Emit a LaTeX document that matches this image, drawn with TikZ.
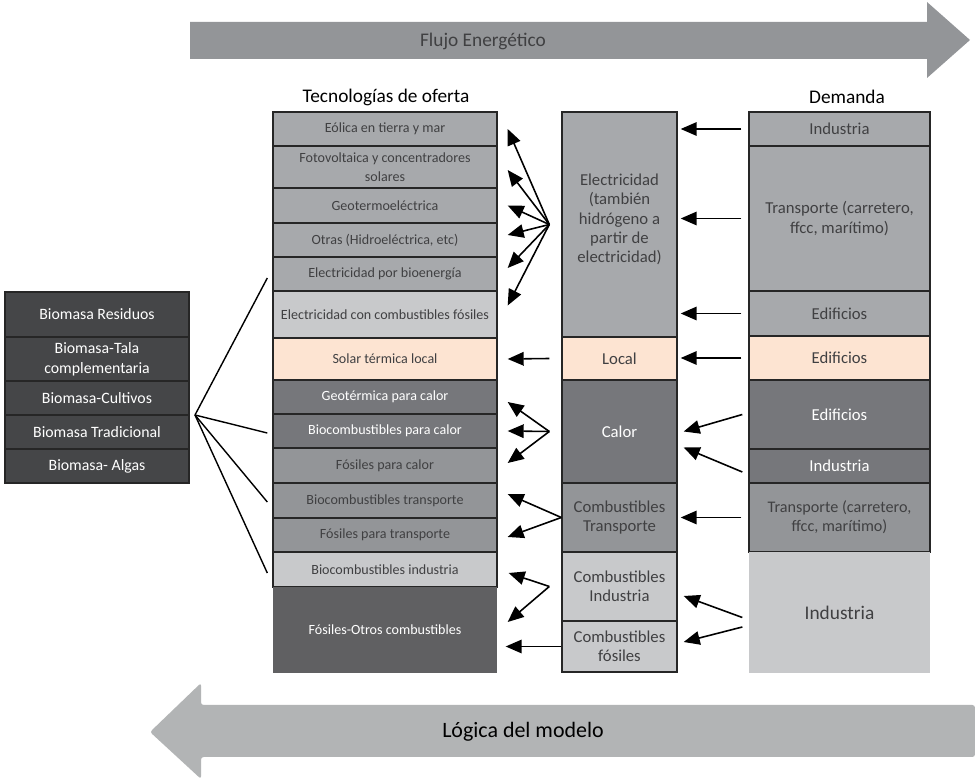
\documentclass[tikz,border=0pt]{standalone}
\usepackage{fontspec}
\setmainfont{Carlito}
\usetikzlibrary{arrows.meta,calc}

\definecolor{gA}{RGB}{167,169,172}
\definecolor{gL}{RGB}{200,201,203}
\definecolor{gM}{RGB}{147,149,152}
\definecolor{gD}{RGB}{118,119,123}
\definecolor{gX}{RGB}{96,96,98}
\definecolor{gB}{RGB}{69,70,72}
\definecolor{peach}{RGB}{253,228,210}
\definecolor{flechaL}{RGB}{178,180,181}
\definecolor{txt}{RGB}{64,64,66}

\tikzset{
	box/.style={draw=black!85, line width=0.8pt, inner sep=1pt, align=center, text=txt, font=\fontsize{8}{10.6}\selectfont},
	ofr/.style={box, minimum width=4.48cm},
	vec/.style={box, minimum width=2.30cm, font=\fontsize{9.5}{11}\selectfont},
	dem/.style={box, minimum width=3.62cm, font=\fontsize{9.5}{11}\selectfont},
	bio/.style={box, minimum width=3.68cm, fill=gB, text=white, font=\fontsize{9}{11.3}\selectfont},
	titulo/.style={font=\fontsize{11}{13}\selectfont},
	flecha/.style={line width=0.9pt, -{Triangle[length=0.32cm,width=0.27cm]}},
	linea/.style={line width=0.8pt},
}

\begin{document}
\begin{tikzpicture}[x=0.02cm, y=-0.02cm]
	%%%%% START %%%%%
	\useasboundingbox[fill=white] (0,0) rectangle (975,780);
	
	% flujo energetico
	\fill[gM] (190,22) -- (927,22) -- (927,2) -- (970,40) -- (927,78) -- (927,59) -- (190,59) -- cycle;
	\node[titulo, text=txt] (flujo) at (483,41) {Flujo Energético};
	
	% titulos
	\node[titulo] (tofr) at (386,97) {Tecnologías de oferta};
	\node[titulo] (tdem) at (847,97) {Demanda};
	
	% tecnologias de oferta
	\node[ofr, fill=gA, minimum height=0.68cm] (eol) at (385,129) {Eólica en tierra y mar};
	\node[ofr, fill=gA, minimum height=0.84cm] (foto) at (385,167) {Fotovoltaica y concentradores\\solares};
	\node[ofr, fill=gA, minimum height=0.70cm] (geo) at (385,205.5) {Geotermoeléctrica};
	\node[ofr, fill=gA, minimum height=0.68cm] (otr) at (385,240) {Otras (Hidroeléctrica, etc)};
	\node[ofr, fill=gA, minimum height=0.68cm] (ebio) at (385,274) {Electricidad por bioenergía};
	\node[ofr, fill=gL, minimum height=0.94cm] (efos) at (385,314.5) {Electricidad con combustibles fósiles};
	\node[ofr, fill=peach, minimum height=0.84cm] (sol) at (385,359) {Solar térmica local};
	\node[ofr, fill=gD, text=white, minimum height=0.68cm] (gcal) at (385,397) {Geotérmica para calor};
	\node[ofr, fill=gD, text=white, minimum height=0.68cm] (bcal) at (385,431) {Biocombustibles para calor};
	\node[ofr, fill=gM, minimum height=0.70cm] (fcal) at (385,465.5) {Fósiles para calor};
	\node[ofr, fill=gM, minimum height=0.70cm] (btra) at (385,500.5) {Biocombustibles transporte};
	\node[ofr, fill=gM, minimum height=0.68cm] (ftra) at (385,535) {Fósiles para transporte};
	\node[ofr, fill=gL, minimum height=0.70cm] (bind) at (385,569.5) {Biocombustibles industria};
	\node[ofr, draw=none, fill=gX, text=white, minimum height=1.72cm] (foc) at (385,630) {Fósiles-Otros combustibles};
	
	% vectores
	\node[vec, fill=gA, minimum height=4.50cm] (elec) at (619.5,224.5) {Electricidad\\(también\\hidrógeno a\\partir de\\electricidad)\\[-4pt]};
	\node[vec, fill=peach, minimum height=0.86cm] (loc) at (619.5,358.5) {Local};
	\node[vec, fill=gD, text=white, minimum height=2.06cm] (cal) at (619.5,431.5) {Calor};
	\node[vec, fill=gM, minimum height=1.38cm] (ctra) at (619.5,517.5) {Combustibles\\Transporte};
	\node[vec, fill=gL, minimum height=1.38cm] (cind) at (619.5,586.5) {Combustibles\\Industria};
	\node[vec, fill=gL, minimum height=1.02cm] (cfos) at (619.5,646.5) {Combustibles\\fósiles};
	
	% demanda
	\node[dem, fill=gA, minimum height=0.68cm] (dind1) at (839.5,129) {Industria};
	\node[dem, fill=gA, minimum height=2.90cm] (dtra1) at (839.5,218.5) {Transporte (carretero,\\ffcc, marítimo)};
	\node[dem, fill=gA, minimum height=0.90cm] (dedi1) at (839.5,313.5) {Edificios};
	\node[dem, fill=peach, minimum height=0.88cm] (dedi2) at (839.5,358) {Edificios};
	\node[dem, fill=gD, text=white, minimum height=1.38cm] (dedi3) at (839.5,414.5) {Edificios};
	\node[dem, fill=gD, text=white, minimum height=0.68cm] (dind2) at (839.5,466) {Industria};
	\node[dem, fill=gM, minimum height=1.38cm, font=\fontsize{9.2}{10.8}\selectfont] (dtra2) at (839.5,517.5) {Transporte (carretero,\\ffcc, marítimo)};
	\node[dem, draw=none, fill=gL, minimum height=2.42cm, font=\fontsize{11}{13}\selectfont] (dind3) at (839.5,612.5) {Industria};
	
	% biomasa
	\node[bio, minimum height=0.90cm] (bres) at (97,314.5) {Biomasa Residuos};
	\node[bio, minimum height=0.88cm] (btal) at (97,359) {Biomasa-Tala\\complementaria};
	\node[bio, minimum height=0.68cm] (bcul) at (97,398) {Biomasa-Cultivos};
	\node[bio, minimum height=0.68cm] (btra2) at (97,432) {Biomasa Tradicional};
	\node[bio, minimum height=0.68cm] (balg) at (97,466) {Biomasa- Algas};
	
	\coordinate (fanbio) at (195,415);
	\draw[linea] (fanbio) -- ([xshift=-0.1cm,yshift=-0.08cm]ebio.west);
	\draw[linea] (fanbio) -- ([xshift=-0.1cm,yshift=-0.04cm]bcal.west);
	\draw[linea] (fanbio) -- ([xshift=-0.1cm,yshift=-0.03cm]btra.west);
	\draw[linea] (fanbio) -- ([xshift=-0.1cm,yshift=-0.07cm]bind.west);
	
	% electricidad -> oferta
	\coordinate (fanel) at ([xshift=-0.24cm]elec.west);
	\draw[flecha] (fanel) -- ([xshift=0.2cm]eol.east);
	\draw[flecha] (fanel) -- ([xshift=0.2cm,yshift=-0.06cm]foto.east);
	\draw[flecha] (fanel) -- ([xshift=0.2cm]geo.east);
	\draw[flecha] (fanel) -- ([xshift=0.2cm,yshift=0.1cm]otr.east);
	\draw[flecha] (fanel) -- ([xshift=0.2cm,yshift=0.12cm]ebio.east);
	\draw[flecha] (fanel) -- ([xshift=0.2cm,yshift=0.18cm]efos.east);
	
	% demanda -> electricidad
	\draw[flecha] ([xshift=-0.14cm]dind1.west) -- ([xshift=0.06cm]elec.east |- dind1.west);
	\draw[flecha] ([xshift=-0.14cm]dtra1.west) -- ([xshift=0.06cm]elec.east |- dtra1.west);
	\draw[flecha] ([xshift=-0.14cm]dedi1.west) -- ([xshift=0.06cm]elec.east |- dedi1.west);
	
	% local
	\draw[flecha] ([xshift=-0.14cm]dedi2.west) -- ([xshift=0.06cm]loc.east |- dedi2.west);
	\draw[flecha] ([xshift=-0.24cm]loc.west) -- ([xshift=0.2cm]sol.east);
	
	% calor
	\coordinate (fancal) at ([xshift=-0.24cm]cal.west);
	\draw[flecha] (fancal) -- ([xshift=0.2cm,yshift=-0.1cm]gcal.east);
	\draw[flecha] (fancal) -- ([xshift=0.2cm]bcal.east);
	\draw[flecha] (fancal) -- ([xshift=0.2cm,yshift=0.05cm]fcal.east);
	\draw[flecha] ([xshift=-0.12cm]dedi3.west) -- ([xshift=0.12cm]cal.east);
	\draw[flecha] ([xshift=-0.12cm,yshift=-0.12cm]dind2.west) -- ([xshift=0.12cm,yshift=-0.32cm]cal.east);
	
	% combustibles transporte
	\draw[flecha] (ctra.west) -- ([xshift=0.2cm,yshift=0.13cm]btra.east);
	\draw[flecha] (ctra.west) -- ([xshift=0.2cm,yshift=-0.04cm]ftra.east);
	\draw[flecha] ([xshift=-0.14cm]dtra2.west) -- ([xshift=0.06cm]ctra.east);
	
	% combustibles industria y fosiles
	\coordinate (fanind) at ([xshift=-0.24cm]cind.west);
	\draw[flecha] (fanind) -- ([xshift=0.22cm,yshift=-0.07cm]bind.east);
	\draw[flecha] (fanind) -- ([xshift=0.2cm,yshift=0.16cm]foc.east);
	\draw[flecha] (cfos.west) -- ([xshift=0.16cm]foc.east |- cfos.west);
	\draw[flecha] ([xshift=-0.12cm,yshift=-0.1cm]dind3.west) -- ([xshift=0.12cm,yshift=-0.19cm]cind.east);
	\draw[flecha] ([xshift=-0.12cm,yshift=-0.29cm]dind3.west) -- ([xshift=0.12cm,yshift=0.09cm]cfos.east);
	
	% logica del modelo
	\fill[flechaL, rounded corners=1.5pt] (975,705) -- (201,705) -- (201,683) -- (150,732) -- (201,779) -- (201,757) -- (975,757) -- cycle;
	\node[font=\fontsize{12.5}{14}\selectfont] (logica) at (523,732) {Lógica del modelo};
	
	%%%%% END %%%%%
\end{tikzpicture}
\end{document}
